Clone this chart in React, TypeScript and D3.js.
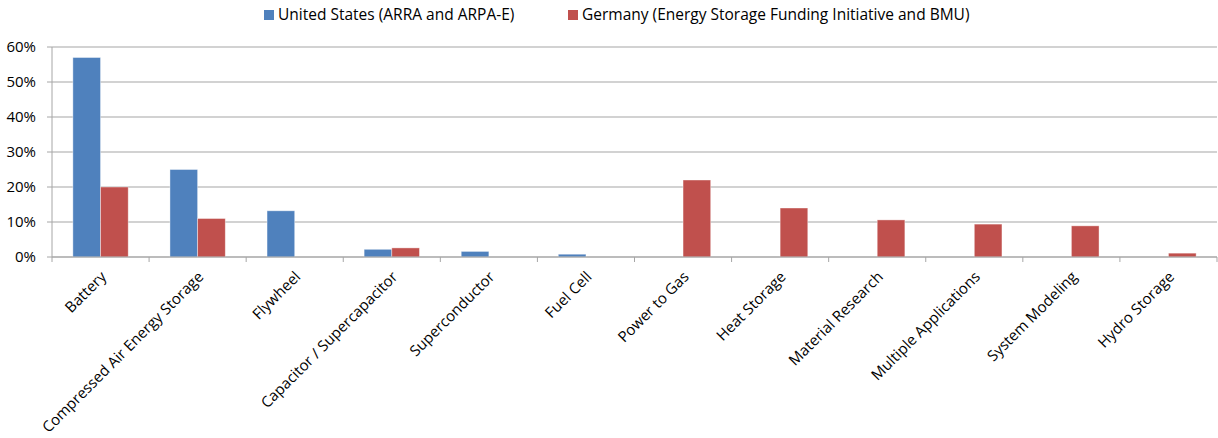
import * as d3 from "d3"

const categories = [
  "Battery",
  "Compressed Air Energy Storage",
  "Flywheel",
  "Capacitor / Supercapacitor",
  "Superconductor",
  "Fuel Cell",
  "Power to Gas",
  "Heat Storage",
  "Material Research",
  "Multiple Applications",
  "System Modeling",
  "Hydro Storage",
]

const usValues = [57, 25, 13.2, 2.2, 1.6, 0.8, 0, 0, 0, 0, 0, 0]
const deValues = [20, 11, 0, 2.6, 0, 0, 22, 14, 10.6, 9.4, 8.9, 1.1]

const seriesNames = [
  "United States (ARRA and ARPA-E)",
  "Germany (Energy Storage Funding Initiative and BMU)",
]
const seriesColors = ["#4F81BD", "#C0504D"]

const yTicks = [0, 10, 20, 30, 40, 50, 60]

const width = 1218
const height = 438
const margin = { top: 47, right: 1, bottom: 181, left: 52 }
const font = "Open Sans, Noto Sans, sans-serif"

export default function App() {
  const innerW = width - margin.left - margin.right
  const innerH = height - margin.top - margin.bottom

  const x0 = d3.scaleBand().domain(categories).range([0, innerW]).padding(0)
  const bw = x0.bandwidth()
  const x1 = d3
    .scaleBand()
    .domain(["us", "de"])
    .range([bw * 0.215, bw * 0.785])
    .padding(0)
  const y = d3.scaleLinear().domain([0, 60]).range([innerH, 0])

  const series = [
    { key: "us", values: usValues, color: seriesColors[0] },
    { key: "de", values: deValues, color: seriesColors[1] },
  ]

  return (
    <svg
      width={width}
      height={height}
      style={{ position: "absolute", left: 0, top: 0, background: "#fff" }}
      fontFamily={font}
    >
      {/* legend */}
      <g>
        <rect x={264} y={10} width={10} height={10} fill={seriesColors[0]} />
        <text x={278} y={15} dy="0.35em" fontSize={15.5} fill="#000">
          {seriesNames[0]}
        </text>
        <rect x={568} y={10} width={10} height={10} fill={seriesColors[1]} />
        <text x={582} y={15} dy="0.35em" fontSize={15.5} fill="#000">
          {seriesNames[1]}
        </text>
      </g>

      <g transform={`translate(${margin.left},${margin.top})`}>
        {/* gridlines */}
        {yTicks.map((t) => (
          <line
            key={t}
            x1={0}
            x2={innerW}
            y1={y(t)}
            y2={y(t)}
            stroke="#A6A6A6"
            strokeWidth={1.2}
          />
        ))}
        {/* y axis */}
        <line x1={0} x2={0} y1={0} y2={innerH} stroke="#A6A6A6" strokeWidth={1} />
        {yTicks.map((t) => (
          <g key={"yt" + t}>
            <line x1={-5} x2={0} y1={y(t)} y2={y(t)} stroke="#A6A6A6" />
            <text
              x={-16}
              y={y(t)}
              dy="0.35em"
              textAnchor="end"
              fontSize={15}
              fill="#000"
            >
              {t}%
            </text>
          </g>
        ))}

        {/* bars */}
        {series.map((s) =>
          categories.map((c, i) =>
            s.values[i] > 0 ? (
              <rect
                key={s.key + c}
                x={(x0(c) ?? 0) + (x1(s.key) ?? 0)}
                y={y(s.values[i])}
                width={x1.bandwidth()}
                height={innerH - y(s.values[i])}
                fill={s.color}
                stroke="#fff"
                strokeOpacity={0.5}
                strokeWidth={0.8}
              />
            ) : null
          )
        )}

        {/* x axis */}
        <line
          x1={0}
          x2={innerW}
          y1={innerH}
          y2={innerH}
          stroke="#A6A6A6"
          strokeWidth={1.2}
        />
        {categories.map((c) => (
          <line
            key={"xt" + c}
            x1={x0(c)}
            x2={x0(c)}
            y1={innerH}
            y2={innerH + 5}
            stroke="#A6A6A6"
          />
        ))}
        <line
          x1={innerW}
          x2={innerW}
          y1={innerH}
          y2={innerH + 5}
          stroke="#A6A6A6"
        />
        {categories.map((c) => {
          const cx = (x0(c) ?? 0) + bw / 2 + 3
          const cy = innerH + 17
          return (
            <text
              key={"xl" + c}
              transform={`translate(${cx},${cy}) rotate(-45)`}
              textAnchor="end"
              dy="0.35em"
              fontSize={15}
              fill="#000"
            >
              {c}
            </text>
          )
        })}
      </g>
    </svg>
  )
}
